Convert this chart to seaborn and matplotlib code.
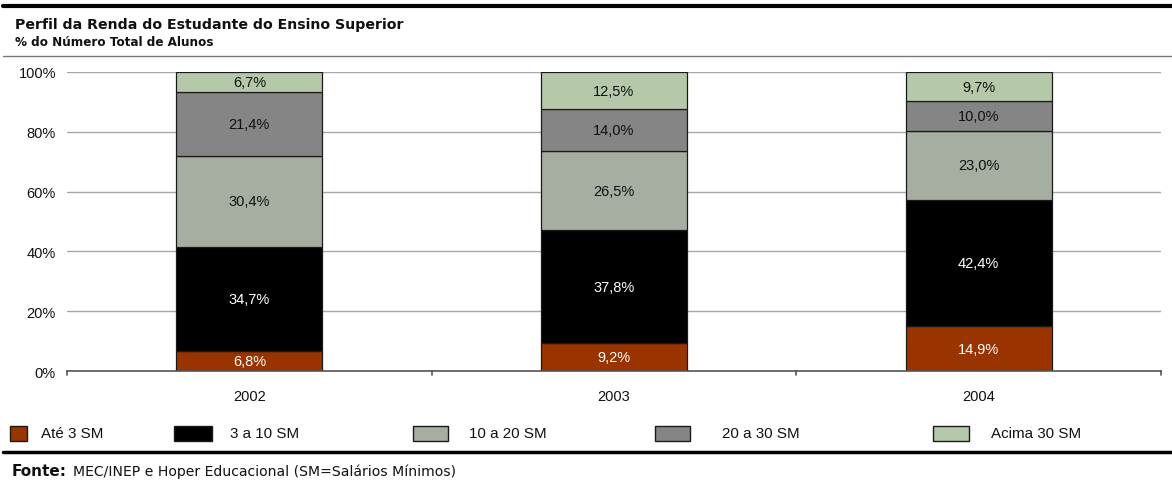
import matplotlib
matplotlib.use("Agg")
import matplotlib.pyplot as plt
from matplotlib.patches import Rectangle
from matplotlib.lines import Line2D
import numpy as np
import pandas as pd
import seaborn as sns

sns.set_theme(style="white")
plt.rcParams['font.family'] = ['Liberation Sans', 'DejaVu Sans']

# Data
anos = ["2002", "2003", "2004"]
faixas = ["Até 3 SM", "3 a 10 SM", "10 a 20 SM", "20 a 30 SM", "Acima 30 SM"]
ate_3 = [6.8, 9.2, 14.9]
de_3_a_10 = [34.7, 37.8, 42.4]
de_10_a_20 = [30.4, 26.5, 23.0]
de_20_a_30 = [21.4, 14.0, 10.0]
acima_30 = [6.7, 12.5, 9.7]

series = [ate_3, de_3_a_10, de_10_a_20, de_20_a_30, acima_30]
cores = ["#993300", "#000000", "#A6AEA2", "#858585", "#B5C9AA"]
cor_texto = ["white", "white", "#111111", "#111111", "#111111"]

df = pd.DataFrame({f: v for f, v in zip(faixas, series)}, index=anos)

W, H = 1172, 481
fig = plt.figure(figsize=(W / 100, H / 100), dpi=100)
ax = fig.add_axes([67 / W, 1 - 372 / H, (1161 - 67) / W, (372 - 73) / H])

base = np.zeros(len(anos))
for faixa, cor, tcor in zip(faixas, cores, cor_texto):
    vals = df[faixa].values
    sns.barplot(x=anos, y=vals, bottom=base, color=cor, width=0.4,
                edgecolor="#1a1a1a", linewidth=0.9, ax=ax, saturation=1)
    for i, v in enumerate(vals):
        ax.text(i, base[i] + v / 2, f"{v:.1f}%".replace(".", ","),
                ha="center", va="center", fontsize=10.5, color=tcor, zorder=5)
    base = base + vals

ax.set_ylim(0, 100)
ax.set_xlim(-0.5, len(anos) - 0.5)
ax.set_yticks([0, 20, 40, 60, 80, 100])
ax.set_yticklabels([f"{t}%" for t in [0, 20, 40, 60, 80, 100]], fontsize=10.5, color="#111111")
ax.tick_params(axis="y", length=0, pad=8)
ax.tick_params(axis="x", length=0, pad=13, labelsize=10.5, labelcolor="#111111")
ax.yaxis.grid(True, color="#a8a8a8", linewidth=1)
ax.set_axisbelow(True)
for s in ["left", "right", "top"]:
    ax.spines[s].set_visible(False)
ax.spines["bottom"].set_color("#555555")
ax.spines["bottom"].set_linewidth(1.2)
ax.set_xlabel("")

# category separator ticks below the axis
for xb in np.arange(-0.5, len(anos), 1.0):
    ax.plot([xb, xb], [0, -1.4], color="#555555", linewidth=1.2, clip_on=False)

# Header
fig.add_artist(Line2D([3 / W, 1], [1 - 7 / H] * 2, color="black", linewidth=3))
fig.text(15 / W, 1 - 25 / H, "Perfil da Renda do Estudante do Ensino Superior",
         fontsize=10.15, fontweight="bold", family=["DejaVu Sans"], va="center", color="#111111")
fig.text(15 / W, 1 - 43 / H, "% do Número Total de Alunos",
         fontsize=8.65, fontweight="bold", family=["DejaVu Sans"], va="center", color="#111111")
fig.add_artist(Line2D([3 / W, 1], [1 - 57 / H] * 2, color="#777777", linewidth=1))

# Legend
leg_patches = [(10, 27), (174, 212), (413, 448), (655, 690), (933, 969)]
leg_text_x = [41, 230, 469, 722, 991]
ly = 1 - 434.5 / H
ph = 15 / H
for (x0, x1), tx, faixa, cor in zip(leg_patches, leg_text_x, faixas, cores):
    fig.add_artist(Rectangle((x0 / W, ly - ph / 2), (x1 - x0) / W, ph,
                             facecolor=cor, edgecolor="#1a1a1a", linewidth=1))
    fig.text(tx / W, ly, faixa, fontsize=10.9, va="center", color="#111111")

# Footer
fig.add_artist(Line2D([3 / W, 1], [1 - 453 / H] * 2, color="black", linewidth=2.5))
fig.text(12 / W, 1 - 472 / H, "Fonte:", fontsize=11, fontweight="bold",
         family=["DejaVu Sans"], va="center", color="#111111")
fig.text(73 / W, 1 - 472 / H, "MEC/INEP e Hoper Educacional (SM=Salários Mínimos)",
         fontsize=10.1, family=["DejaVu Sans"], va="center", color="#111111")

fig.savefig("out.png", dpi=100)
